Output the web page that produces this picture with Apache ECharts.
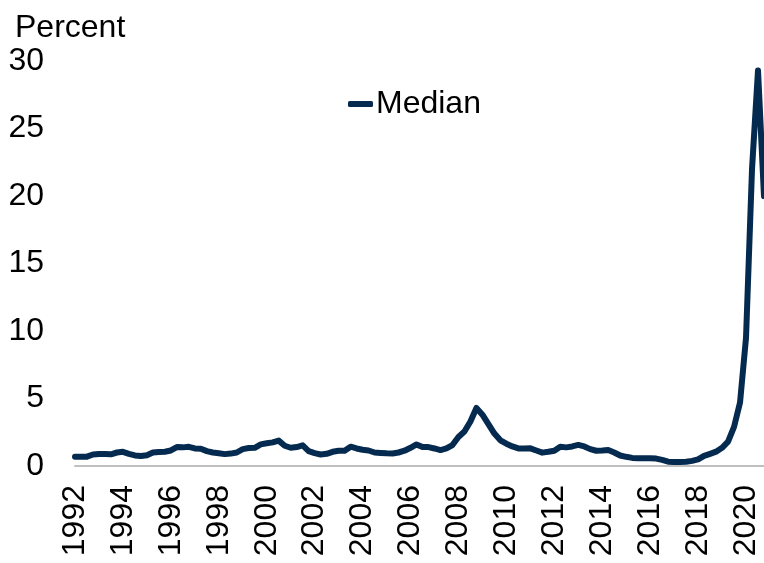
<!DOCTYPE html>
<html lang="en">
<head>
    <meta charset="UTF-8">
    <title>Median</title>
    <script src="https://cdn.jsdelivr.net/npm/echarts@6/dist/echarts.min.js"></script>
    <style>
      *{margin:0;padding:0}
      html,body{width:100%;height:100%;background:#fff}
      #main{width:764px;height:563px}
    </style>
</head>
<body>
<div id="main"></div>
<script>
    // quarterly, 1992Q1 .. 2020Q4
    var startYear = 1992;
    var median = [
        0.69, 0.69, 0.69, 0.85,   // 1992
        0.89, 0.88, 0.87, 1.00,   // 1993
        1.05, 0.90, 0.78, 0.74,   // 1994
        0.80, 1.00, 1.04, 1.06,   // 1995
        1.15, 1.40, 1.38, 1.42,   // 1996
        1.30, 1.28, 1.10, 1.00,   // 1997
        0.95, 0.88, 0.92, 1.00,   // 1998
        1.25, 1.33, 1.35, 1.60,   // 1999
        1.68, 1.75, 1.88, 1.50,   // 2000
        1.35, 1.40, 1.53, 1.10,   // 2001
        0.95, 0.85, 0.90, 1.05,   // 2002
        1.13, 1.13, 1.43, 1.30,   // 2003
        1.20, 1.15, 1.00, 0.97,   // 2004
        0.94, 0.93, 1.00, 1.13,   // 2005
        1.35, 1.60, 1.40, 1.40,   // 2006
        1.30, 1.18, 1.30, 1.55,   // 2007
        2.15, 2.55, 3.30, 4.30,   // 2008
        3.80, 3.10, 2.40, 1.90,   // 2009
        1.65, 1.45, 1.30, 1.30,   // 2010
        1.31, 1.15, 0.99, 1.05,   // 2011
        1.13, 1.43, 1.38, 1.45,   // 2012
        1.56, 1.45, 1.25, 1.13,   // 2013
        1.15, 1.18, 1.00, 0.78,   // 2014
        0.68, 0.60, 0.57, 0.57,   // 2015
        0.57, 0.55, 0.45, 0.32,   // 2016
        0.30, 0.30, 0.32, 0.38,   // 2017
        0.49, 0.75, 0.90, 1.06,   // 2018
        1.35, 1.80, 2.90, 4.70,   // 2019
        9.50, 22.0, 29.3, 20.0    // 2020
    ];
    var yTicks = [0, 5, 10, 15, 20, 25, 30];

    var seriesData = median.map(function (v, i) {
        return [startYear + i / 4, v];
    });

    var font = 'Liberation Sans, Arial, sans-serif';
    var navy = '#042a4f';

    var chart = echarts.init(document.getElementById('main'));
    var option = {
        backgroundColor: '#fff',
        animation: false,
        title: {
            text: 'Percent',
            left: 15,
            top: 12,
            padding: 0,
            textStyle: {fontFamily: font, fontSize: 32, fontWeight: 'normal', color: '#000'}
        },
        legend: {
            left: 348,
            top: 88,
            padding: 0,
            icon: 'roundRect',
            itemWidth: 25,
            itemHeight: 6,
            textStyle: {fontFamily: font, fontSize: 32, color: '#000', padding: [0, 0, 0, -2]},
            data: ['Median']
        },
        grid: {left: 75, right: 0, top: 61, bottom: 97},
        xAxis: {
            type: 'value',
            min: 1992,
            max: 2020.75,
            interval: 2,
            splitLine: {show: false},
            axisTick: {show: false},
            axisLine: {show: true, lineStyle: {color: '#bfbfbf', width: 2}},
            axisLabel: {
                rotate: 90,
                margin: 19,
                padding: [8, 0, 0, 0],
                fontFamily: font,
                fontSize: 32,
                color: '#000',
                showMaxLabel: false,
                formatter: function (v) { return String(v); }
            }
        },
        yAxis: {
            type: 'value',
            min: yTicks[0],
            max: yTicks[yTicks.length - 1],
            interval: 5,
            splitLine: {show: false},
            axisTick: {show: false},
            axisLine: {show: false},
            axisLabel: {margin: 31, fontFamily: font, fontSize: 32, color: '#000'}
        },
        series: [{
            name: 'Median',
            type: 'line',
            showSymbol: false,
            symbol: 'none',
            smooth: false,
            lineStyle: {color: navy, width: 6, cap: 'round', join: 'round'},
            itemStyle: {color: navy},
            data: seriesData
        }]
    };
    chart.setOption(option);
</script>
</body>
</html>
